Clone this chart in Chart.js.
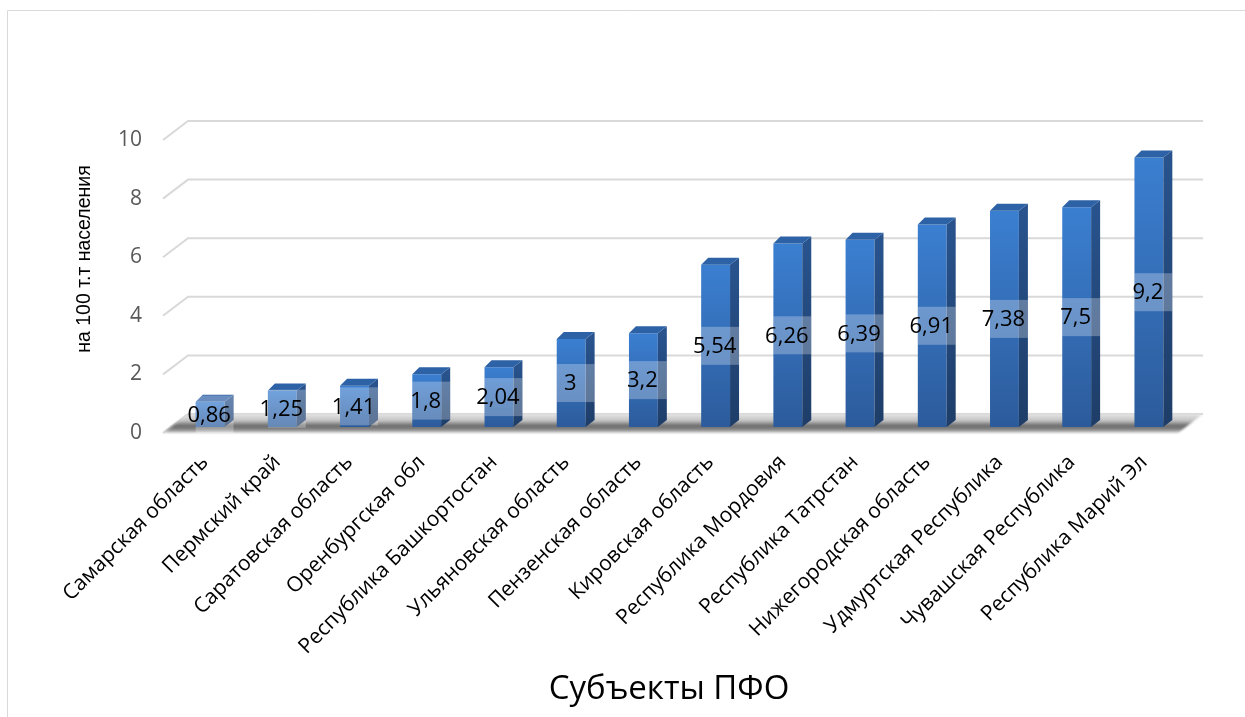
<!DOCTYPE html>
<html>
<head>
<meta charset="utf-8">
<script src="https://cdn.jsdelivr.net/npm/chart.js@4.4.1/dist/chart.umd.min.js"></script>
<style>
  html, body { margin: 0; padding: 0; background: #ffffff; }
  #wrap { width: 1245px; height: 717px; position: relative; }
</style>
</head>
<body>
<div id="wrap"><canvas id="c" width="1245" height="717"></canvas></div>
<script>
// Regions of the Volga Federal District and rate per 100 thousand population
const regions = [
  'Самарская область', 'Пермский край', 'Саратовская область', 'Оренбургская обл',
  'Республика Башкортостан', 'Ульяновская область', 'Пензенская область', 'Кировская область',
  'Республика Мордовия', 'Республика Татрстан', 'Нижегородская область', 'Удмуртская Республика',
  'Чувашская Республика', 'Республика Марий Эл'
];
const values = [0.86, 1.25, 1.41, 1.8, 2.04, 3, 3.2, 5.54, 6.26, 6.39, 6.91, 7.38, 7.5, 9.2];
const yTicks = [0, 2, 4, 6, 8, 10];
const yTitle = 'на 100 т.т населения';
const xTitle = 'Субъекты ПФО';

const FONT = '"Open Sans", "Noto Sans", sans-serif';

// pseudo-3D geometry of the plot box
const BACK = { dx: 14, dy: -13 };   // back wall relative to bar plane
const FRONT = { dx: -11, dy: 6 };   // front edge relative to bar plane
const BAR_DX = 9, BAR_DY = 7;       // bar depth

const fmt = v => String(v).replace('.', ',');

const scene3d = {
  id: 'scene3d',
  beforeDatasetsDraw(chart) {
    const { ctx, chartArea: a, scales: { y } } = chart;
    ctx.save();
    // outer frame
    ctx.strokeStyle = '#d9d9d9';
    ctx.lineWidth = 1;
    ctx.beginPath();
    ctx.moveTo(7.5, 717);
    ctx.lineTo(7.5, 10.5);
    ctx.lineTo(1245, 10.5);
    ctx.stroke();

    // back wall gridlines with their side diagonals
    ctx.strokeStyle = '#d9d9d9';
    ctx.lineWidth = 2;
    yTicks.forEach(v => {
      const p = y.getPixelForValue(v);
      ctx.beginPath();
      ctx.moveTo(a.left + FRONT.dx, p + FRONT.dy);
      ctx.lineTo(a.left + BACK.dx, p + BACK.dy);
      ctx.lineTo(a.right + 18, p + BACK.dy);
      ctx.stroke();
    });

    // floor with its shadow band
    const p0 = y.getPixelForValue(0);
    const yb = p0 + BACK.dy, yf = p0 + FRONT.dy;
    const g = ctx.createLinearGradient(0, yb, 0, yf);
    g.addColorStop(0, '#e4e4e4');
    g.addColorStop(0.35, '#c4c4c4');
    g.addColorStop(0.62, '#6a6a6a');
    g.addColorStop(0.82, '#878787');
    g.addColorStop(1, '#dcdcdc');
    ctx.filter = 'blur(1px)';
    ctx.fillStyle = g;
    ctx.beginPath();
    ctx.moveTo(a.left + FRONT.dx, yf);
    ctx.lineTo(a.right - 7, yf);
    ctx.lineTo(a.right + 18, yb);
    ctx.lineTo(a.left + BACK.dx, yb);
    ctx.closePath();
    ctx.fill();
    ctx.filter = 'none';
    ctx.restore();
  },
  afterDatasetsDraw(chart) {
    const { ctx } = chart;
    const meta = chart.getDatasetMeta(0);
    ctx.save();
    meta.data.forEach((el, i) => {
      const { x, y, base, width } = el.getProps(['x', 'y', 'base', 'width'], true);
      const l = x - width / 2, r = x + width / 2;
      // side face
      const gs = ctx.createLinearGradient(0, y, 0, base);
      gs.addColorStop(0, '#28538d');
      gs.addColorStop(1, '#1e3d68');
      ctx.fillStyle = gs;
      ctx.beginPath();
      ctx.moveTo(r, y);
      ctx.lineTo(r + BAR_DX, y - BAR_DY);
      ctx.lineTo(r + BAR_DX, base - BAR_DY);
      ctx.lineTo(r, base);
      ctx.closePath();
      ctx.fill();
      // top face
      ctx.fillStyle = '#2e62a6';
      ctx.beginPath();
      ctx.moveTo(l, y);
      ctx.lineTo(l + BAR_DX - 2, y - BAR_DY);
      ctx.lineTo(r + BAR_DX, y - BAR_DY);
      ctx.lineTo(r, y);
      ctx.closePath();
      ctx.fill();
    });
    // value labels on a translucent box
    meta.data.forEach((el, i) => {
      const { x, y, base, width } = el.getProps(['x', 'y', 'base', 'width'], true);
      const cy = (y + base) / 2;
      ctx.fillStyle = 'rgba(255,255,255,0.28)';
      ctx.fillRect(x - width / 2, cy - 19, width + BAR_DX, 38);
      ctx.fillStyle = '#000000';
      ctx.font = '22px ' + FONT;
      ctx.textAlign = 'center';
      ctx.textBaseline = 'middle';
      ctx.fillText(fmt(values[i]), x - 1, cy + 1);
    });
    ctx.restore();
  },
  afterDraw(chart) {
    const { ctx } = chart;
    ctx.save();
    ctx.fillStyle = '#000000';
    ctx.textAlign = 'center';
    ctx.textBaseline = 'middle';
    // axis titles
    ctx.font = '33px ' + FONT;
    ctx.fillText(xTitle, 669, 690);
    ctx.translate(85, 259);
    ctx.rotate(-Math.PI / 2);
    ctx.font = '19.5px "Liberation Sans", Arial, sans-serif';
    ctx.fillText(yTitle, 0, 0);
    ctx.restore();
  }
};

function frontColor(c) {
  const chart = c.chart;
  const ys = chart.scales && chart.scales.y;
  if (!ys || c.type !== 'data') return '#3470bb';
  const top = ys.getPixelForValue(values[c.dataIndex]);
  const base = ys.getPixelForValue(0);
  if (!isFinite(top) || !isFinite(base) || top === base) return '#3470bb';
  const g = chart.ctx.createLinearGradient(0, top, 0, base);
  g.addColorStop(0, '#3b7fd1');
  g.addColorStop(1, '#2c5b9b');
  return g;
}

function build() {
  new Chart(document.getElementById('c'), {
    type: 'bar',
    data: {
      labels: regions,
      datasets: [{
        data: values,
        backgroundColor: frontColor,
        borderWidth: 0,
        barPercentage: 0.4,
        categoryPercentage: 1
      }]
    },
    options: {
      responsive: false,
      animation: false,
      devicePixelRatio: 1,
      layout: { padding: { left: 20, top: 134, right: 60, bottom: 0 } },
      plugins: { legend: { display: false }, tooltip: { enabled: false } },
      scales: {
        x: {
          grid: { display: false, drawTicks: false },
          border: { display: false },
          ticks: {
            autoSkip: false,
            minRotation: 45,
            maxRotation: 45,
            padding: 23,
            labelOffset: -5,
            color: '#000000',
            font: { family: FONT, size: 21 }
          },
          afterFit(s) { s.height = 290; }
        },
        y: {
          min: 0,
          max: 10,
          grid: { display: false, drawTicks: false },
          border: { display: false },
          afterBuildTicks(s) { s.ticks = yTicks.map(v => ({ value: v })); },
          ticks: {
            padding: 32,
            labelOffset: 6,
            color: '#595959',
            font: { family: FONT, size: 21 },
            callback: v => fmt(v)
          },
          afterFit(s) { s.width = 154; }
        }
      }
    },
    plugins: [scene3d]
  });
}

if (document.fonts && document.fonts.load) {
  Promise.all([
    document.fonts.load('20px "Open Sans"'),
    document.fonts.load('19px "Liberation Sans"')
  ]).then(build, build);
} else {
  build();
}
</script>
</body>
</html>
